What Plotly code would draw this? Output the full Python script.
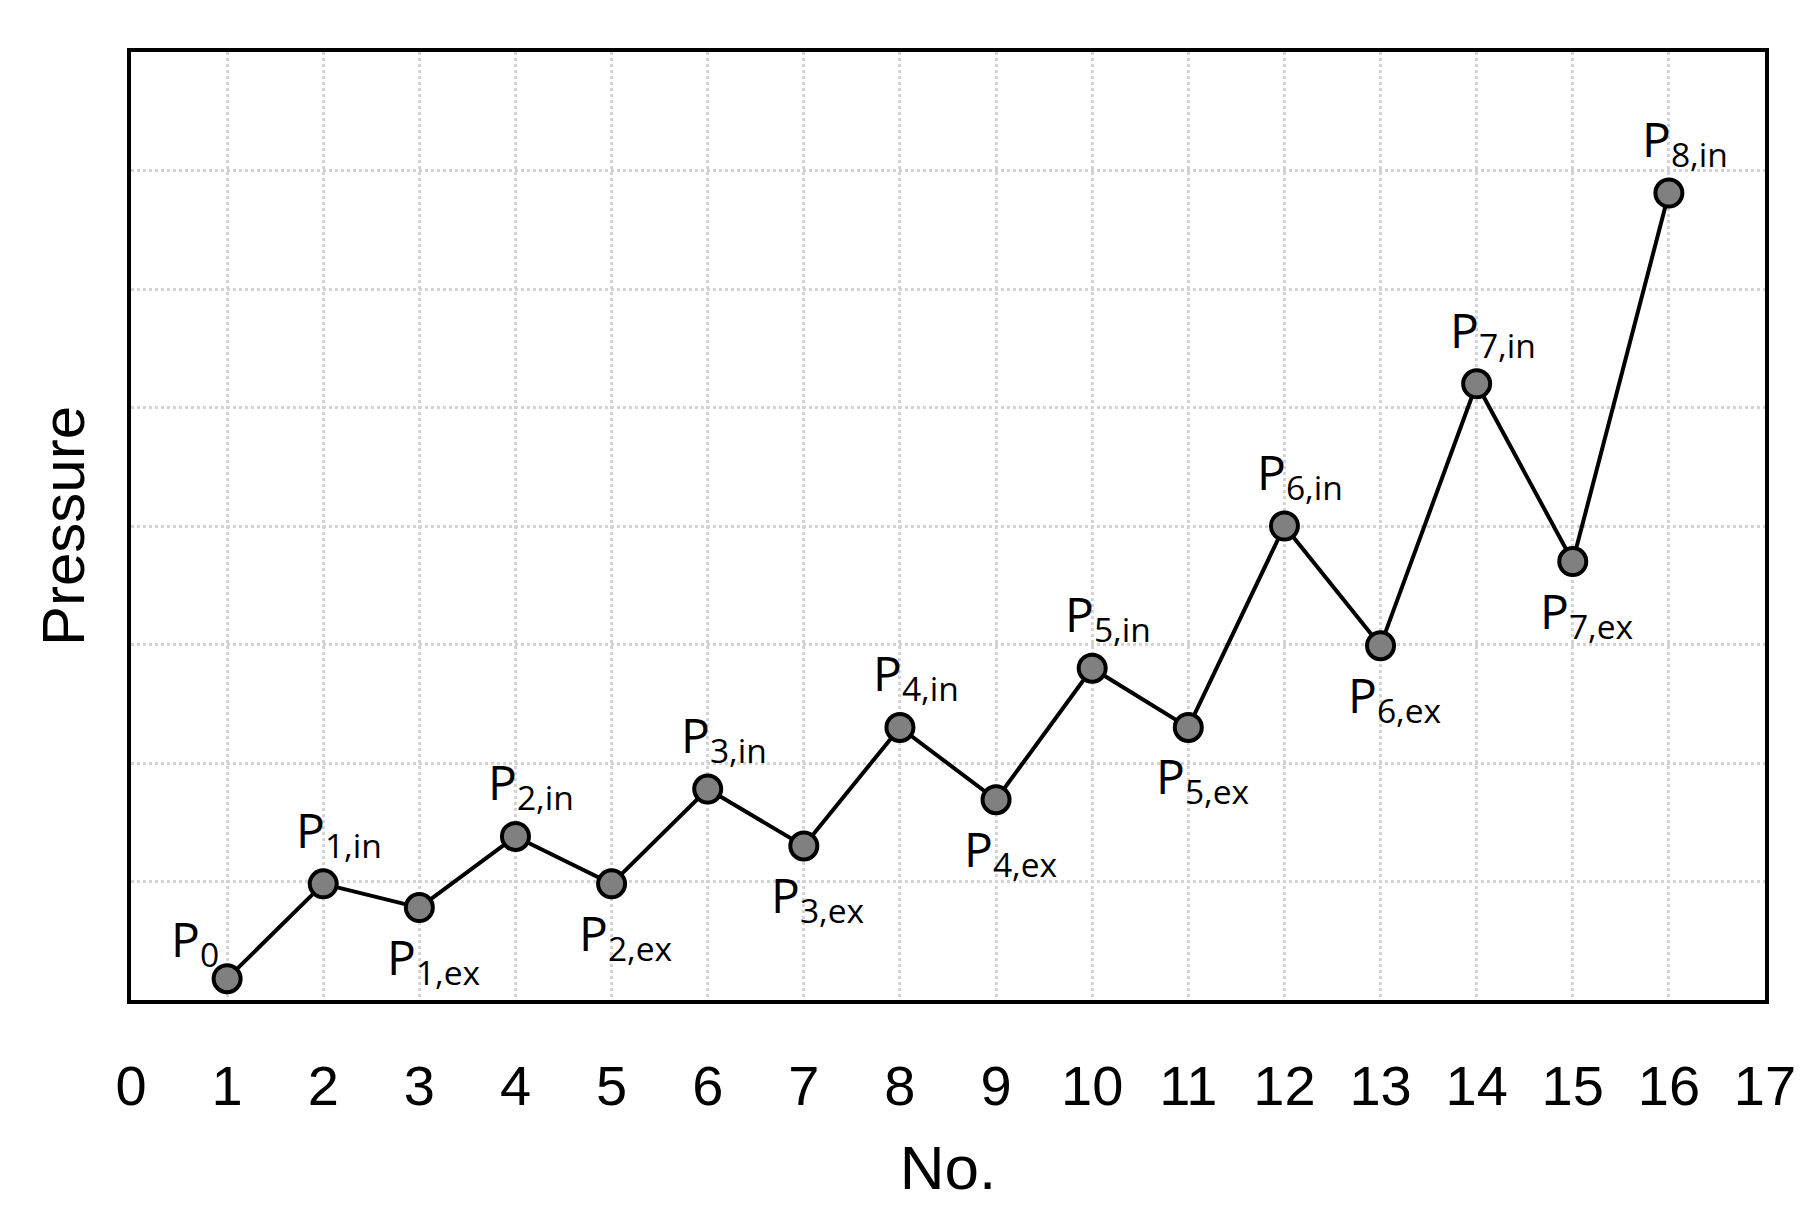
import plotly.graph_objects as go

no = list(range(1, 17))
pressure = [0.18, 0.98, 0.78, 1.38, 0.98, 1.78, 1.30, 2.30, 1.69, 2.80, 2.30, 4.00, 2.99, 5.20, 3.70, 6.81]
subs = ["0", "1,in", "1,ex", "2,in", "2,ex", "3,in", "3,ex", "4,in", "4,ex", "5,in", "5,ex",
        "6,in", "6,ex", "7,in", "7,ex", "8,in"]
xticks = list(range(0, 18))

fig = go.Figure()
fig.add_trace(go.Scatter(x=no, y=pressure, mode="lines+markers",
                         line=dict(color="black", width=4),
                         marker=dict(size=27, color="#808080", line=dict(color="black", width=4)),
                         showlegend=False))

lab_font = dict(family="Open Sans, Lato, sans-serif", size=48, color="black")
for x, y, s in zip(no, pressure, subs):
    text = "P<sub>%s</sub>" % s
    if s == "0":
        fig.add_annotation(x=x, y=y, text=text, showarrow=False, font=lab_font,
                           xanchor="right", yanchor="bottom", xshift=-6, yshift=0)
    elif s.endswith("in"):
        fig.add_annotation(x=x, y=y, text=text, showarrow=False, font=lab_font,
                           xanchor="center", yanchor="bottom", xshift=16, yshift=14)
    else:
        fig.add_annotation(x=x, y=y, text=text, showarrow=False, font=lab_font,
                           xanchor="center", yanchor="top", xshift=14, yshift=-14)

fig.update_layout(
    width=1818, height=1214,
    margin=dict(l=123, r=61, t=44, b=222),
    plot_bgcolor="white", paper_bgcolor="white",
    xaxis=dict(range=[0, 17], tickvals=xticks, ticktext=[str(t) for t in xticks],
               showgrid=True, gridcolor="#d3d3d3", gridwidth=3, griddash="dot",
               showline=True, mirror=True, linecolor="black", linewidth=4,
               zeroline=False, ticks="", ticklabelstandoff=34,
               tickfont=dict(family="Liberation Sans Narrow, Liberation Sans, sans-serif", size=56, color="black"),
               title=dict(text="No.", font=dict(family="Liberation Sans Narrow, Liberation Sans, sans-serif", size=62, color="black"),
                          standoff=30)),
    yaxis=dict(range=[0, 8], dtick=1, showticklabels=False,
               showgrid=True, gridcolor="#d3d3d3", gridwidth=3, griddash="dot",
               showline=True, mirror=True, linecolor="black", linewidth=4,
               zeroline=False, ticks="",
               title=dict(text="Pressure", font=dict(family="Liberation Sans, Arial, sans-serif", size=60, color="black"),
                          standoff=24)),
)

fig.write_html("out.html")
